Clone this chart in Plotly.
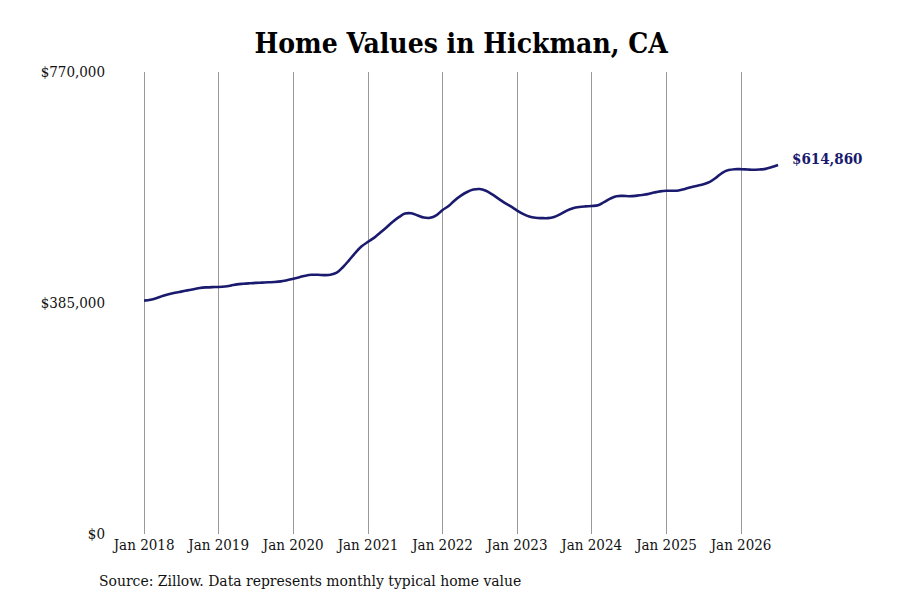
import plotly.graph_objects as go
import pandas as pd

# monthly typical home value, Jan 2018 .. Jul 2026
months = pd.date_range("2018-01-01", "2026-07-01", freq="MS")
values = [
    388900, 390500, 393000, 396500, 399500, 402000, 404000, 406000, 408000, 410000, 411000, 411500,  # 2018
    411700, 412500, 414000, 416000, 417000, 417800, 418500, 419000, 419500, 420000, 421000, 423000,  # 2019
    425500, 428000, 430500, 432000, 432000, 431500, 432000, 435500, 445000, 456500, 469000, 479500,  # 2020
    487000, 494000, 502000, 511000, 520000, 528000, 534000, 534500, 531000, 527500, 527000, 531000,  # 2021
    540000, 547000, 556000, 564000, 570000, 574000, 575000, 572000, 566000, 559000, 552000, 546000,  # 2022
    539000, 533000, 529000, 527000, 526500, 526500, 528500, 533000, 539000, 543000, 545000, 546000,  # 2023
    546700, 548000, 553000, 559000, 563000, 563500, 563000, 563500, 565000, 566500, 569000, 571000,  # 2024
    572000, 572000, 572500, 575000, 578000, 580500, 583000, 587000, 594000, 602000, 606500, 608000,  # 2025
    608000, 607500, 607000, 607500, 608500, 611500, 614860,                                          # 2026
]

tick_vals = pd.date_range("2018-01-01", "2026-01-01", freq="YS")
tick_text = [d.strftime("Jan %Y") for d in tick_vals]
y_ticks = [0, 385000, 770000]
y_text = ["$0", "$385,000", "$770,000"]

serif = "DejaVu Serif Condensed, DejaVu Serif, serif"
navy = "#1a1a6e"

fig = go.Figure()
fig.add_trace(go.Scatter(x=months, y=values, mode="lines",
                         line=dict(color=navy, width=2.6, shape="spline"),
                         hoverinfo="skip"))

fig.add_annotation(x=months[-1], y=values[-1], text="<b>$%s</b>" % format(values[-1], ","),
                   showarrow=False, xanchor="left", xshift=12, yshift=6,
                   font=dict(family=serif, size=15, color=navy))

fig.add_annotation(x=0, y=0, xref="paper", yref="paper", xshift=-15, yshift=-47,
                   text="Source: Zillow. Data represents monthly typical home value",
                   showarrow=False, xanchor="left", yanchor="middle",
                   font=dict(family=serif, size=15.5, color="#111"))

# page body has an 8px margin, so the figure is a bit smaller than the window
fig.update_layout(
    width=892, height=592,
    margin=dict(l=104, r=115, t=64, b=66),
    paper_bgcolor="white", plot_bgcolor="white",
    showlegend=False,
    title=dict(text="<b>Home Values in Hickman, CA</b>", x=0.508, xanchor="center",
               y=0.941, yanchor="middle",
               font=dict(family=serif, size=28, color="black")),
    xaxis=dict(range=["2017-07-28", "2026-08-04"], tickvals=tick_vals, ticktext=tick_text,
               showgrid=True, gridcolor="#999", gridwidth=1, zeroline=False,
               showline=False, ticks="", tickfont=dict(family=serif, size=15, color="#111")),
    yaxis=dict(range=[0, 770000], tickvals=y_ticks, ticktext=y_text,
               showgrid=False, zeroline=False, showline=False, ticks="",
               ticklabelstandoff=6,
               tickfont=dict(family=serif, size=15, color="#111")),
)

fig.write_html("out.html")
